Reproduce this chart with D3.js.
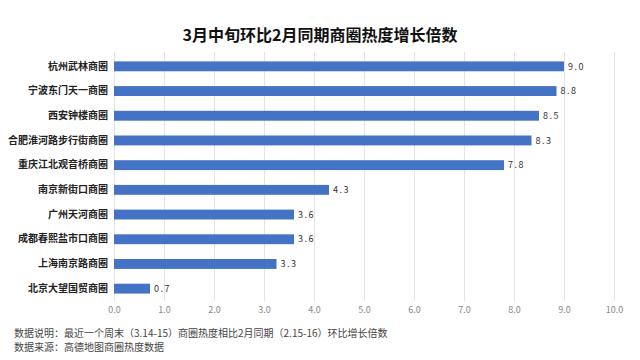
<!DOCTYPE html>
<html><head><meta charset="utf-8">
<script src="https://cdn.jsdelivr.net/npm/d3@7"></script>
<style>body{margin:0;background:#fff;}svg{display:block;}</style>
</head><body>
<svg id="c" width="640" height="360"></svg>
<script>
const categories = ["杭州武林商圈","宁波东门天一商圈","西安钟楼商圈","合肥淮河路步行街商圈","重庆江北观音桥商圈","南京新街口商圈","广州天河商圈","成都春熙盐市口商圈","上海南京路商圈","北京大望国贸商圈"];
const values = [9.0, 8.85, 8.5, 8.35, 7.8, 4.3, 3.6, 3.6, 3.25, 0.72];
const valueLabels = ["9.0","8.8","8.5","8.3","7.8","4.3","3.6","3.6","3.3","0.7"];
const tickValues = [0,1,2,3,4,5,6,7,8,9,10];
const title = "3月中旬环比2月同期商圈热度增长倍数";
const notes = ["数据说明：最近一个周末（3.14-15）商圈热度相比2月同期（2.15-16）环比增长倍数","数据来源：高德地图商圈热度数据"];

const svg = d3.select("#c");
const font = "'Noto Sans CJK SC', 'Noto Sans', sans-serif";
const x = d3.scaleLinear().domain([0,10]).range([114,614]);
const y = d3.scaleBand().domain(categories).range([54,301]).paddingInner(0.6).paddingOuter(0.3);

svg.append("text").attr("x",320).attr("y",41).attr("text-anchor","middle")
  .attr("font-family",font).attr("font-size",16).attr("font-weight","bold").attr("fill","#111").text(title);

svg.append("g").selectAll("line").data(tickValues).join("line")
  .attr("x1",d=>x(d)).attr("x2",d=>x(d)).attr("y1",52).attr("y2",301)
  .attr("stroke","#e3e3e3").attr("stroke-width",1).attr("shape-rendering","crispEdges");

const xa = svg.append("g").attr("transform","translate(0,301)")
  .call(d3.axisBottom(x).tickValues(tickValues).tickFormat(d3.format(".1f")).tickSize(0).tickPadding(6));
xa.select(".domain").remove();
xa.selectAll("text").attr("font-family",font).attr("font-size",9).attr("fill","#888");

const ya = svg.append("g").attr("transform","translate(108,0)")
  .call(d3.axisLeft(y).tickSize(0).tickPadding(0));
ya.select(".domain").remove();
ya.selectAll("text").attr("font-family",font).attr("font-size",10).attr("font-weight","bold").attr("fill","#222");

svg.append("g").selectAll("rect").data(values).join("rect")
  .attr("x",x(0)).attr("y",(d,i)=>y(categories[i]))
  .attr("width",d=>x(d)-x(0)).attr("height",y.bandwidth())
  .attr("fill","#4472c4");

svg.append("g").selectAll("text").data(values).join("text")
  .attr("x",d=>x(d)+4).attr("y",(d,i)=>y(categories[i])+y.bandwidth()/2)
  .attr("dy","0.35em").attr("font-family",font).attr("font-size",9).attr("letter-spacing","1.5px")
  .attr("fill","#333").text((d,i)=>valueLabels[i]);

svg.append("g").selectAll("text").data(notes).join("text")
  .attr("x",14).attr("y",(d,i)=>337+i*14)
  .attr("font-family",font).attr("font-size",10).attr("fill","#444").text(d=>d);
</script>
</body></html>
